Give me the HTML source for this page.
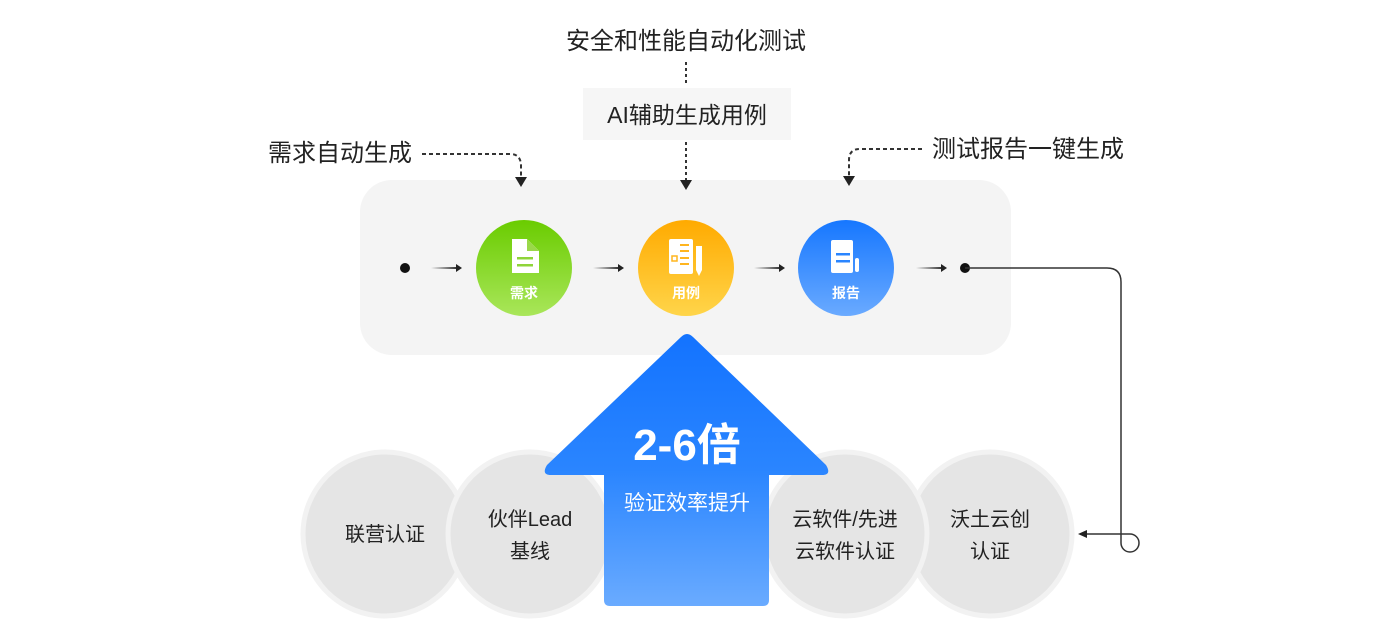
<!DOCTYPE html>
<html><head><meta charset="utf-8"><style>
body{margin:0;background:#fff;}
svg{display:block}
text{font-family:"Liberation Sans","Noto Sans CJK SC",sans-serif;}
</style></head><body>
<svg width="1376" height="640" viewBox="0 0 1376 640" xmlns="http://www.w3.org/2000/svg">
<defs>
<linearGradient id="g1" x1="0" y1="0" x2="0" y2="1"><stop offset="0" stop-color="#6acc00"/><stop offset="1" stop-color="#a9e65a"/></linearGradient>
<linearGradient id="g2" x1="0" y1="0" x2="0" y2="1"><stop offset="0" stop-color="#ffaa00"/><stop offset="1" stop-color="#ffd54a"/></linearGradient>
<linearGradient id="g3" x1="0" y1="0" x2="0" y2="1"><stop offset="0" stop-color="#1677ff"/><stop offset="1" stop-color="#6aaaff"/></linearGradient>
<linearGradient id="ga" x1="0" y1="0" x2="0" y2="1"><stop offset="0" stop-color="#1373ff"/><stop offset="0.5" stop-color="#2a85ff"/><stop offset="1" stop-color="#6aabff"/></linearGradient>
<linearGradient id="ar" x1="0" y1="0" x2="1" y2="0"><stop offset="0" stop-color="#222" stop-opacity="0"/><stop offset="1" stop-color="#222"/></linearGradient>
</defs>

<rect x="360" y="180" width="651" height="175" rx="32" fill="#f4f4f4"/>

<text x="686" y="49" font-size="24" text-anchor="middle" fill="#222">安全和性能自动化测试</text>
<line x1="686" y1="62" x2="686" y2="86" stroke="#333" stroke-width="2" stroke-dasharray="3,3"/>
<rect x="583" y="88" width="208" height="52" fill="#f6f6f6"/>
<text x="687" y="123" font-size="23" text-anchor="middle" fill="#222">AI辅助生成用例</text>
<line x1="686" y1="142" x2="686" y2="180" stroke="#333" stroke-width="2" stroke-dasharray="3,3"/>
<path d="M680 180 L692 180 L686 190 Z" fill="#222"/>

<text x="340" y="161" font-size="24" text-anchor="middle" fill="#222">需求自动生成</text>
<path d="M422 154 H510 Q521 154 521 166 V177" fill="none" stroke="#333" stroke-width="2" stroke-dasharray="4,3"/>
<path d="M515 177 L527 177 L521 187 Z" fill="#222"/>

<text x="1028" y="157" font-size="24" text-anchor="middle" fill="#222">测试报告一键生成</text>
<path d="M922 149 H860 Q849 149 849 160 V176" fill="none" stroke="#333" stroke-width="2" stroke-dasharray="4,3"/>
<path d="M843 176 L855 176 L849 186 Z" fill="#222"/>

<circle cx="405" cy="268" r="5" fill="#111"/>
<g>
<rect x="431" y="267" width="28" height="2" fill="url(#ar)"/><path d="M456 264 L462 268 L456 272Z" fill="#222"/>
<rect x="593" y="267" width="28" height="2" fill="url(#ar)"/><path d="M618 264 L624 268 L618 272Z" fill="#222"/>
<rect x="754" y="267" width="28" height="2" fill="url(#ar)"/><path d="M779 264 L785 268 L779 272Z" fill="#222"/>
<rect x="916" y="267" width="28" height="2" fill="url(#ar)"/><path d="M941 264 L947 268 L941 272Z" fill="#222"/>
</g>
<circle cx="965" cy="268" r="5" fill="#111"/>
<path d="M965 268 H1107 Q1121 268 1121 282 V543 A9 9 0 1 0 1130 534 H1086" fill="none" stroke="#333" stroke-width="1.5"/>
<path d="M1078 534 L1087 530 L1087 538Z" fill="#222"/>

<circle cx="524" cy="268" r="48" fill="url(#g1)"/>
<path d="M512 239 H527 L539 251 V273 H512 Z" fill="#fff"/>
<path d="M527 239 V251 H539 Z" fill="#9ad84a"/>
<rect x="517" y="257" width="16" height="2.5" fill="#8fd43a"/><rect x="517" y="264" width="16" height="2.5" fill="#8fd43a"/>
<text x="524" y="298" font-size="14" font-weight="bold" text-anchor="middle" fill="#fff">需求</text>

<circle cx="686" cy="268" r="48" fill="url(#g2)"/>
<rect x="669" y="239" width="24" height="35" rx="2" fill="#fff"/>
<rect x="696" y="246" width="6" height="24" fill="#fff"/><path d="M696 270 L702 270 L699 276Z" fill="#fff"/>
<rect x="680" y="244" width="9" height="2" fill="#ffb51f"/><rect x="680" y="250" width="9" height="2" fill="#ffb51f"/><rect x="680" y="257" width="9" height="2" fill="#ffb51f"/><rect x="680" y="263" width="9" height="2" fill="#ffb51f"/>
<rect x="672" y="256" width="5" height="5" fill="none" stroke="#ffb51f" stroke-width="1.5"/>
<text x="686" y="298" font-size="14" font-weight="bold" text-anchor="middle" fill="#fff">用例</text>

<circle cx="846" cy="268" r="48" fill="url(#g3)"/>
<rect x="831" y="240" width="22" height="33" rx="2" fill="#fff"/>
<rect x="855" y="258" width="4" height="14" rx="2" fill="#fff"/>
<rect x="836" y="253" width="14" height="2.5" fill="#2a85ff"/><rect x="836" y="260" width="14" height="2.5" fill="#2a85ff"/>
<text x="846" y="298" font-size="14" font-weight="bold" text-anchor="middle" fill="#fff">报告</text>

<g fill="#e5e5e5" stroke="#f2f2f2" stroke-width="5">
<circle cx="385" cy="534" r="82"/>
<circle cx="530" cy="534" r="82"/>
<circle cx="990" cy="534" r="82"/>
<circle cx="845" cy="534" r="82"/>
</g>
<g font-size="20" fill="#222" text-anchor="middle">
<text x="385" y="541">联营认证</text>
<text x="530" y="526">伙伴Lead</text>
<text x="530" y="558">基线</text>
<text x="845" y="526">云软件/先进</text>
<text x="845" y="558">云软件认证</text>
<text x="990" y="526">沃土云创</text>
<text x="990" y="558">认证</text>
</g>

<path d="M681 337 Q687 331 693 337 L826 465 Q832 475 822 475 H769 V600 Q769 606 763 606 H610 Q604 606 604 600 V475 H551 Q541 475 547 465 Z" fill="url(#ga)"/>
<text x="687" y="460" font-size="44" font-weight="bold" text-anchor="middle" fill="#fff">2-6倍</text>
<text x="687" y="510" font-size="21" text-anchor="middle" fill="#fff">验证效率提升</text>
</svg>
</body></html>
